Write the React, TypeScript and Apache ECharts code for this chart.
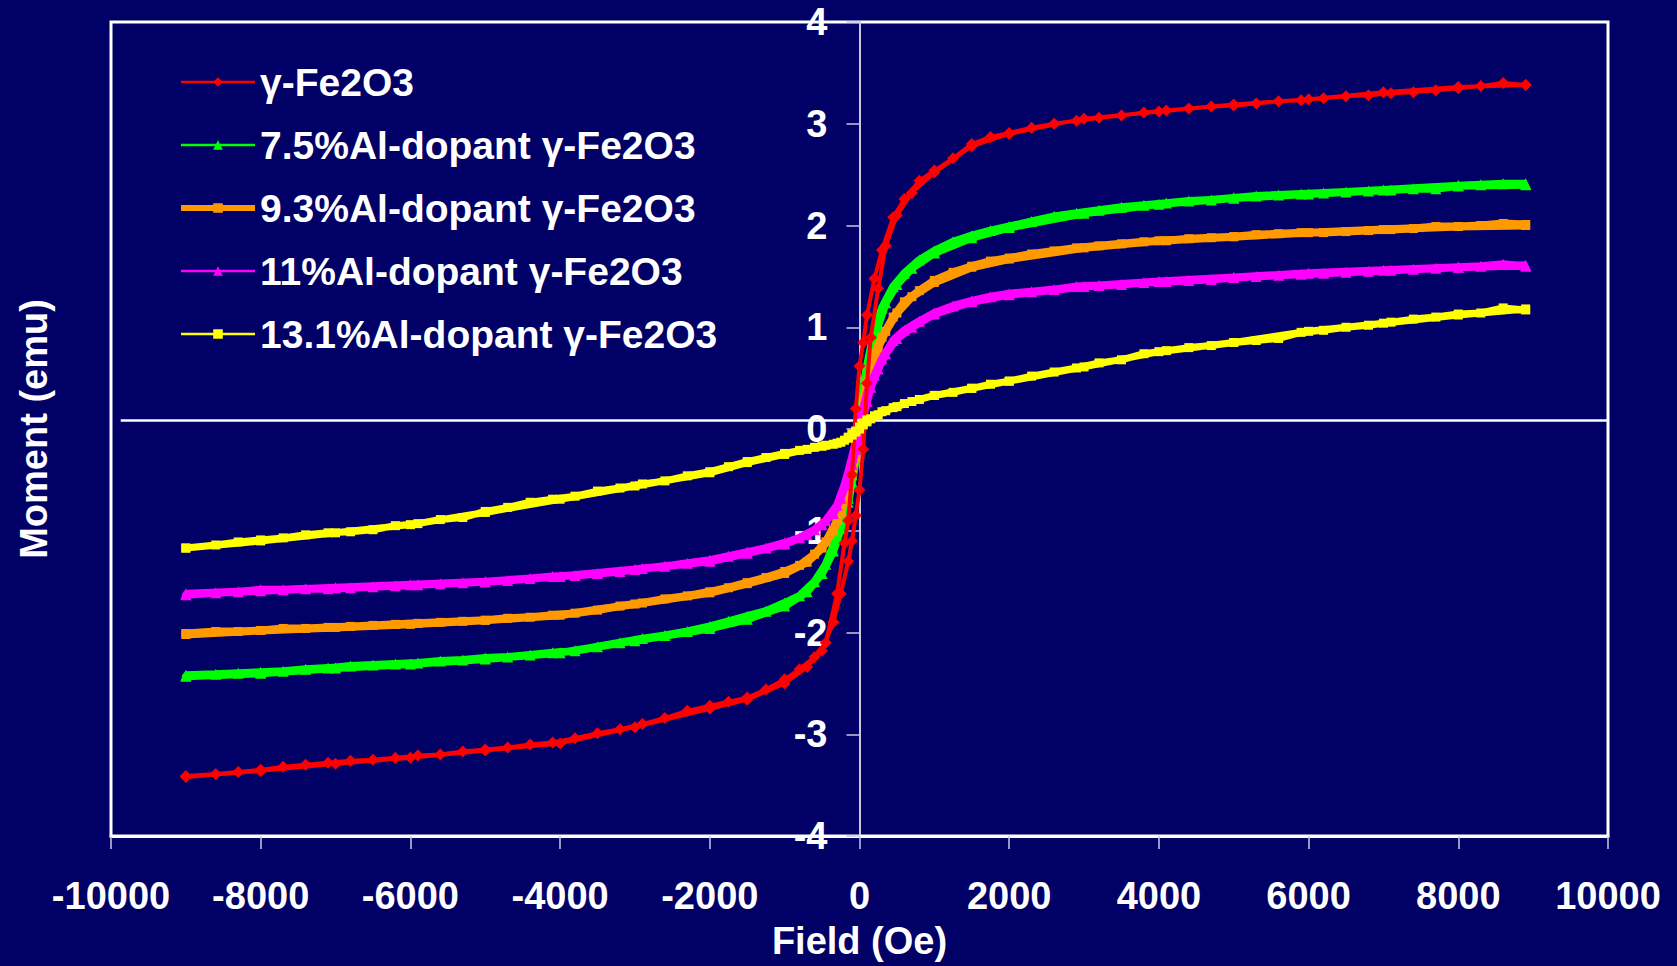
import React, { useEffect, useRef } from "react";
import * as echarts from "echarts";

// Applied field (Oe) for the branch swept from +H down to -H
const FIELD_DOWN = [
  8900, 8600, 8300, 8000, 7700, 7400, 7100, 6800, 6500, 6200, 5900, 5600,
  5300, 5000, 4700, 4400, 4100, 3800, 3500, 3200, 2900, 2600, 2300, 2000,
  1750, 1500, 1250, 1000, 800, 600, 450, 300, 200, 100, 50,
  0, -50, -100, -150, -200, -300, -450, -600,
  -800, -1000, -1250, -1500, -1750, -2000,
  -2300, -2600, -2900, -3200, -3500, -3800, -4100, -4400, -4700, -5000, -5300, -5600,
  -5900, -6200, -6500, -6800, -7100, -7400, -7700, -8000, -8300, -8600, -9000,
];

// Applied field (Oe) for the return branch, -H back up to +H
const FIELD_UP = [
  -9000, -8000, -7000, -6000, -5000, -4000, -3000, -2000, -1500, -1000, -700, -500,
  -350, -250, -150, -100, -50, 0, 50, 100, 150, 250, 350, 500, 700, 1000,
  1500, 2000, 3000, 4000, 5000, 6000, 7000, 8000, 8900,
];

// Moment (emu), descending branch
const FE2O3_DOWN = [
  3.38, 3.40, 3.37, 3.35, 3.33, 3.31, 3.30, 3.28, 3.27, 3.25, 3.23, 3.22,
  3.20, 3.18, 3.17, 3.15, 3.13, 3.11, 3.08, 3.06, 3.03, 3.00, 2.96, 2.91,
  2.87, 2.80, 2.66, 2.54, 2.44, 2.26, 2.08, 1.76, 1.48, 1.12, 0.85,
  0.62, 0.20, -0.45, -0.90, -1.12, -1.62, -2.10, -2.24,
  -2.36, -2.46, -2.56, -2.64, -2.68, -2.72,
  -2.77, -2.84, -2.90, -2.95, -2.99, -3.04, -3.08, -3.10, -3.13, -3.15, -3.17, -3.20,
  -3.21, -3.23, -3.25, -3.26, -3.28, -3.30, -3.32, -3.35, -3.37, -3.39, -3.41,
];
const AL75_DOWN = [
  2.41, 2.41, 2.40, 2.39, 2.36, 2.36, 2.35, 2.34, 2.33, 2.32, 2.31, 2.30,
  2.29, 2.27, 2.25, 2.24, 2.22, 2.20, 2.18, 2.15, 2.12, 2.09, 2.04, 1.99,
  1.95, 1.90, 1.84, 1.75, 1.66, 1.53, 1.40, 1.19, 0.97, 0.62, 0.40,
  0.14, -0.18, -0.45, -0.68, -0.82, -1.06, -1.33, -1.50,
  -1.64, -1.71, -1.79, -1.84, -1.89, -1.94,
  -1.99, -2.03, -2.06, -2.10, -2.14, -2.18, -2.20, -2.22, -2.24, -2.25, -2.27, -2.28,
  -2.30, -2.31, -2.32, -2.33, -2.35, -2.36, -2.38, -2.39, -2.40, -2.41, -2.42,
];
const AL93_DOWN = [
  2.01, 2.02, 2.00, 1.99, 1.99, 1.97, 1.96, 1.95, 1.94, 1.93, 1.93, 1.92,
  1.91, 1.89, 1.88, 1.87, 1.85, 1.84, 1.82, 1.80, 1.78, 1.75, 1.72, 1.68,
  1.65, 1.60, 1.54, 1.46, 1.36, 1.25, 1.10, 0.90, 0.74, 0.45, 0.28,
  0.06, -0.16, -0.37, -0.52, -0.66, -0.90, -1.11, -1.23,
  -1.34, -1.40, -1.46, -1.51, -1.56, -1.60,
  -1.64, -1.67, -1.71, -1.74, -1.78, -1.81, -1.83, -1.85, -1.86, -1.88, -1.89, -1.90,
  -1.91, -1.92, -1.93, -1.94, -1.95, -1.96, -1.96, -1.98, -1.99, -1.99, -2.01,
];
const AL11_DOWN = [
  1.60, 1.62, 1.60, 1.59, 1.58, 1.57, 1.56, 1.55, 1.54, 1.53, 1.52, 1.51,
  1.50, 1.49, 1.47, 1.46, 1.45, 1.44, 1.42, 1.41, 1.40, 1.37, 1.35, 1.33,
  1.30, 1.26, 1.21, 1.14, 1.06, 0.97, 0.87, 0.69, 0.53, 0.35, 0.20,
  0.05, -0.13, -0.28, -0.42, -0.55, -0.75, -0.90, -0.99,
  -1.07, -1.12, -1.17, -1.21, -1.25, -1.29,
  -1.32, -1.35, -1.37, -1.40, -1.42, -1.44, -1.45, -1.47, -1.49, -1.50, -1.51, -1.52,
  -1.53, -1.54, -1.55, -1.56, -1.57, -1.57, -1.58, -1.58, -1.60, -1.61, -1.63,
];
const AL131_DOWN = [
  1.17, 1.19, 1.14, 1.13, 1.10, 1.08, 1.05, 1.02, 1.00, 0.97, 0.95, 0.89,
  0.87, 0.85, 0.82, 0.80, 0.77, 0.74, 0.68, 0.65, 0.60, 0.56, 0.52, 0.47,
  0.44, 0.40, 0.36, 0.33, 0.29, 0.25, 0.21, 0.17, 0.13, 0.09, 0.06,
  0.02, -0.02, -0.05, -0.08, -0.11, -0.14, -0.16, -0.18,
  -0.21, -0.24, -0.28, -0.32, -0.37, -0.42,
  -0.46, -0.51, -0.54, -0.58, -0.61, -0.66, -0.69, -0.72, -0.77, -0.81, -0.87, -0.89,
  -0.93, -0.95, -0.99, -1.01, -1.02, -1.04, -1.07, -1.09, -1.11, -1.14, -1.17,
];

// Moment (emu), ascending branch
const FE2O3_UP = [
  -3.42, -3.36, -3.29, -3.23, -3.16, -3.09, -2.93, -2.75, -2.66, -2.50, -2.34, -2.18,
  -1.90, -1.62, -1.30, -1.10, -0.85, -0.60, -0.20, 0.45, 0.90, 1.38, 1.80, 2.10, 2.32, 2.52,
  2.78, 2.90, 3.05, 3.12, 3.19, 3.24, 3.31, 3.36, 3.38,
];
const AL75_UP = [
  -2.43, -2.40, -2.35, -2.31, -2.26, -2.20, -2.08, -1.96, -1.87, -1.74, -1.60, -1.42,
  -1.20, -0.98, -0.72, -0.52, -0.30, -0.05, 0.24, 0.50, 0.72, 1.02, 1.24, 1.42, 1.58, 1.73,
  1.88, 1.98, 2.12, 2.21, 2.27, 2.31, 2.35, 2.39, 2.40,
];
const AL93_UP = [
  -2.02, -1.98, -1.95, -1.92, -1.88, -1.83, -1.72, -1.61, -1.52, -1.42, -1.31, -1.17,
  -1.00, -0.82, -0.58, -0.44, -0.26, -0.05, 0.18, 0.38, 0.54, 0.80, 0.96, 1.14, 1.30, 1.44,
  1.59, 1.67, 1.78, 1.85, 1.89, 1.93, 1.96, 1.99, 2.00,
];
const AL11_UP = [
  -1.62, -1.59, -1.56, -1.53, -1.50, -1.45, -1.38, -1.30, -1.22, -1.13, -1.04, -0.94,
  -0.83, -0.68, -0.47, -0.35, -0.20, -0.05, 0.12, 0.27, 0.41, 0.59, 0.74, 0.89, 1.00, 1.13,
  1.25, 1.32, 1.40, 1.45, 1.49, 1.53, 1.56, 1.59, 1.61,
];
const AL131_UP = [
  -1.17, -1.10, -1.02, -0.94, -0.82, -0.69, -0.56, -0.43, -0.33, -0.25, -0.20, -0.17,
  -0.15, -0.13, -0.09, -0.06, -0.03, 0.00, 0.04, 0.07, 0.10, 0.14, 0.18, 0.22, 0.27, 0.33,
  0.40, 0.47, 0.61, 0.76, 0.85, 0.96, 1.04, 1.12, 1.18,
];

const SERIES_NAMES = [
  "γ-Fe2O3",
  "7.5%Al-dopant γ-Fe2O3",
  "9.3%Al-dopant γ-Fe2O3",
  "11%Al-dopant γ-Fe2O3",
  "13.1%Al-dopant γ-Fe2O3",
];

// Axis ranges
const X_MIN = -10000;
const X_MAX = 10000;
const X_STEP = 2000;
const Y_MIN = -4;
const Y_MAX = 4;
const Y_STEP = 1;

// Horizontal reference line across the plot
const BASELINE_Y = 0.09;
const BASELINE_FROM = -9870;

const FONT = "'Liberation Sans', Arial, Helvetica, sans-serif";
const BG = "#000066";

// Plot area in pixels
const GRID = { left: 111, right: 69, top: 22, bottom: 130 };
const CHART_W = 1677;
const CHART_H = 966;
// The moment axis is drawn through field = 0, i.e. the middle of the plot
const Y_AXIS_SHIFT = -(CHART_W - GRID.left - GRID.right) / 2;

const loop = (down: number[], up: number[]) => [
  ...FIELD_DOWN.map((h, i) => [h, down[i]]),
  ...FIELD_UP.map((h, i) => [h, up[i]]),
];

const STYLES = [
  { color: "#ff0000", symbol: "diamond", size: 12, width: 4, legendWidth: 2.5, z: 5 },
  { color: "#00ff00", symbol: "triangle", size: 11, width: 8, legendWidth: 2.5, z: 2 },
  { color: "#ff9900", symbol: "rect", size: 9, width: 8, legendWidth: 6, z: 3 },
  { color: "#ff00ff", symbol: "triangle", size: 11, width: 8, legendWidth: 2.5, z: 4 },
  { color: "#ffff00", symbol: "rect", size: 9, width: 7, legendWidth: 2.5, z: 6 },
];

const LOOPS = [
  loop(FE2O3_DOWN, FE2O3_UP),
  loop(AL75_DOWN, AL75_UP),
  loop(AL93_DOWN, AL93_UP),
  loop(AL11_DOWN, AL11_UP),
  loop(AL131_DOWN, AL131_UP),
];

const boldWhite = { color: "#ffffff", fontWeight: "bold" as const, fontFamily: FONT, fontSize: 38 };

function buildOption() {
  const series: any[] = SERIES_NAMES.map((name, i) => ({
    name,
    type: "line",
    data: LOOPS[i],
    symbol: STYLES[i].symbol,
    symbolSize: STYLES[i].size,
    showSymbol: true,
    lineStyle: { color: STYLES[i].color, width: STYLES[i].width },
    itemStyle: { color: STYLES[i].color },
    z: STYLES[i].z,
    emphasis: { disabled: true },
  }));

  series.push({
    name: "baseline",
    type: "line",
    data: [],
    z: 1,
    silent: true,
    markLine: {
      silent: true,
      symbol: ["none", "none"],
      label: { show: false },
      lineStyle: { color: "#ffffff", width: 2.5, type: "solid" },
      data: [[{ coord: [BASELINE_FROM, BASELINE_Y] }, { coord: [X_MAX, BASELINE_Y] }]],
    },
  });

  return {
    animation: false,
    backgroundColor: BG,
    textStyle: { fontFamily: FONT },
    grid: {
      ...GRID,
      show: true,
      borderColor: "#ffffff",
      borderWidth: 3,
      containLabel: false,
      outerBoundsMode: "none",
    },
    legend: {
      orient: "vertical",
      left: 178,
      top: 62,
      padding: 0,
      itemWidth: 74,
      itemHeight: 12,
      itemGap: 23,
      selectedMode: false,
      textStyle: { ...boldWhite, fontSize: 39, lineHeight: 40 },
      data: SERIES_NAMES.map((name, i) => ({
        name,
        lineStyle: { width: STYLES[i].legendWidth, color: STYLES[i].color },
      })),
    },
    xAxis: {
      type: "value",
      min: X_MIN,
      max: X_MAX,
      interval: X_STEP,
      name: "Field (Oe)",
      nameLocation: "middle",
      nameGap: 86,
      nameTextStyle: boldWhite,
      axisLine: { show: true, onZero: false, lineStyle: { color: "#ffffff", width: 3 } },
      axisTick: { show: true, length: 13, lineStyle: { color: "#c8c8e0", width: 1.5 } },
      axisLabel: {
        ...boldWhite,
        margin: 41,
        showMinLabel: true,
        showMaxLabel: true,
        hideOverlap: false,
        formatter: (v: number) => String(v),
      },
      splitLine: { show: false },
    },
    yAxis: {
      type: "value",
      position: "left",
      offset: Y_AXIS_SHIFT,
      min: Y_MIN,
      max: Y_MAX,
      interval: Y_STEP,
      name: "Moment (emu)",
      nameLocation: "middle",
      nameGap: 807,
      nameRotate: 90,
      nameTextStyle: boldWhite,
      axisLine: { show: true, onZero: false, lineStyle: { color: "#c8c8e0", width: 2 } },
      axisTick: { show: true, length: 13, lineStyle: { color: "#c8c8e0", width: 1.5 } },
      axisLabel: {
        ...boldWhite,
        margin: 32,
        showMinLabel: true,
        showMaxLabel: true,
        formatter: (v: number) => String(v),
      },
      splitLine: { show: false },
    },
    series,
  };
}

export default function App() {
  const ref = useRef<HTMLDivElement>(null);

  useEffect(() => {
    if (!ref.current) return;
    const chart = echarts.init(ref.current, null, { renderer: "svg" });
    chart.setOption(buildOption() as any);
    return () => chart.dispose();
  }, []);

  return (
    <div
      ref={ref}
      style={{ position: "fixed", left: 0, top: 0, width: CHART_W, height: CHART_H, background: BG }}
    />
  );
}
